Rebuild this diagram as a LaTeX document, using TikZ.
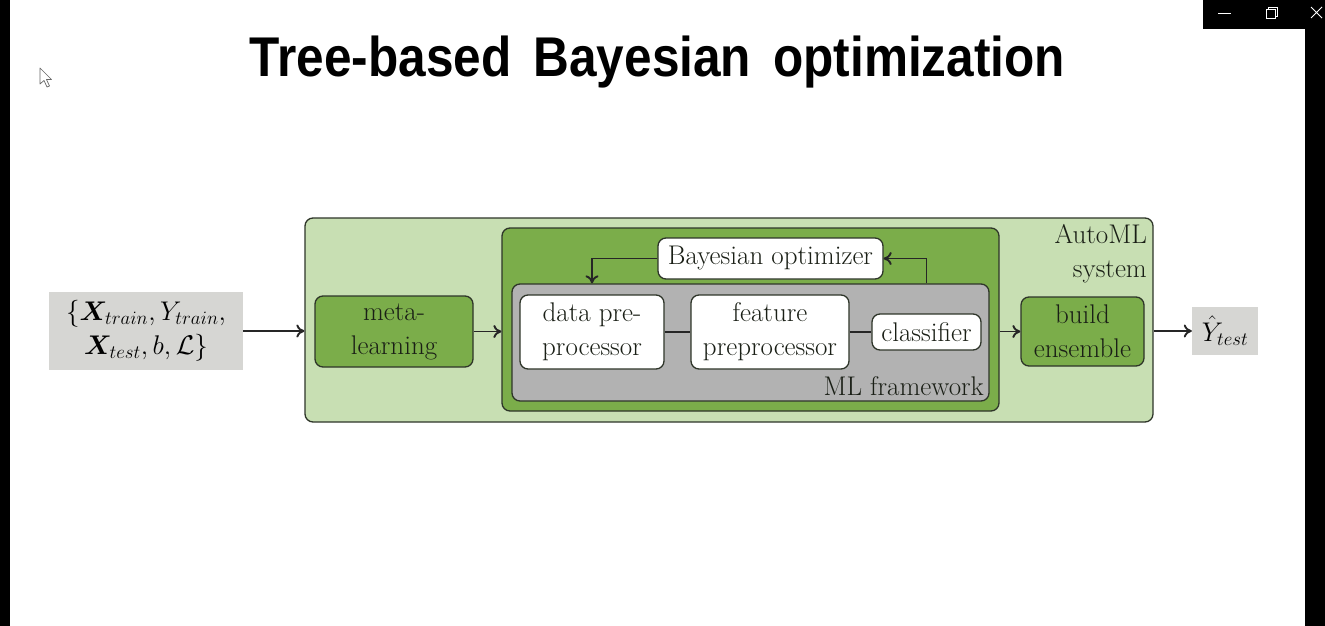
\RequirePackage{fix-cm}
\documentclass[tikz,border=0pt]{standalone}
\usepackage{amsmath,bm}
\usepackage{fontspec}
\newfontfamily\titlefont{Liberation Sans}
\usetikzlibrary{arrows.meta}
\definecolor{lightgreen}{HTML}{C8DFB3}
\definecolor{darkgreen}{HTML}{7BAD4A}
\definecolor{fwgray}{HTML}{B2B2B2}
\definecolor{inputgray}{HTML}{D6D6D3}
\definecolor{edgecol}{HTML}{2E3529}
\definecolor{txtcol}{HTML}{1A1F16}
\begin{document}
\begin{tikzpicture}[x=1pt,y=-1pt,
  font=\fontsize{27}{34}\selectfont,
  rbox/.style={draw=edgecol, line width=1.3pt, rounded corners=8pt, align=center, inner sep=0pt, text=txtcol},
  greenbox/.style={rbox, fill=darkgreen},
  whitebox/.style={rbox, fill=white},
  graybox/.style={fill=inputgray, align=center, inner sep=0pt},
  arr/.style={line width=1.9pt, draw=black!85, -{Computer Modern Rightarrow[length=8pt,width=13pt]}},
  plain/.style={line width=1.9pt, draw=black!85},
  lbl/.style={inner sep=0pt, text=txtcol}
]
\useasboundingbox (0,0) rectangle (1325,626);
\fill[white] (0,0) rectangle (1325,626);
% screen frame
\fill[black] (0,0) rectangle (10,626);
\fill[black] (1305,0) rectangle (1325,626);
\fill[black] (1203,0) rectangle (1325,29);
\draw[white, line width=1pt] (1218,13.5) -- (1231,13.5);
\draw[white, line width=1pt] (1266.5,9.5) rectangle (1275.5,18.5);
\draw[white, line width=1pt] (1268.5,9.5) -- (1268.5,7.5) -- (1277.5,7.5) -- (1277.5,16.5) -- (1275.5,16.5);
\draw[white, line width=1pt] (1311,7) -- (1322,18) (1311,18) -- (1322,7);
% cursor
\draw[fill=white, draw=black!60, line width=0.7pt, line join=round]
  (40,68) -- (40,84) -- (44,80.5) -- (47,87) -- (49.5,86) -- (46.5,79.5) -- (51.5,79.5) -- cycle;
% title
\node[font=\titlefont\bfseries\fontsize{56}{60}\selectfont, anchor=base, inner sep=0pt] (title) at (657.5,77)
  {\scalebox{0.885}[1]{Tree-based\ \,Bayesian\ \,optimization}};
% boxes
\node[rbox, fill=lightgreen, minimum width=848pt, minimum height=204pt] (automl) at (729,320) {};
\node[lbl, align=right, anchor=north east] (automllbl) at (1147,224) {AutoML\\system};
\node[rbox, fill=darkgreen, minimum width=497pt, minimum height=183pt] (pipe) at (750.5,319.5) {};
\node[rbox, fill=fwgray, minimum width=477pt, minimum height=117pt] (fw) at (750.5,342.5) {};
\node[lbl, anchor=south east] (fwlbl) at (984,396) {ML framework};
\node[whitebox, minimum width=225pt, minimum height=41pt] (bo) at (770.5,258.5) {Bayesian optimizer};
\node[whitebox, minimum width=144pt, minimum height=74pt] (dpre) at (592,332) {data pre-\\processor};
\node[whitebox, minimum width=158pt, minimum height=74pt] (feat) at (770,332) {feature\\preprocessor};
\node[whitebox, minimum width=109pt, minimum height=36pt] (clf) at (926.5,332) {classifier};
\node[greenbox, minimum width=158pt, minimum height=71pt] (meta) at (394,331.5) {meta-\\learning};
\node[greenbox, minimum width=123pt, minimum height=69pt] (build) at (1082.5,331.5) {build\\ensemble};
\node[graybox, minimum width=194pt, minimum height=78pt, font=\fontsize{27}{34}\selectfont] (input) at (146,331)
  {$\{\bm{X}_{train}, Y_{train},$\\$\bm{X}_{test}, b, \mathcal{L}\}$};
\node[graybox, minimum width=66pt, minimum height=48pt, font=\fontsize{27}{30}\selectfont] (output) at (1225,331) {$\hat{Y}_{test}$};
% connectors
\draw[arr] (input.east) -- (input.east -| automl.west);
\draw[arr] (meta.east) -- (meta.east -| pipe.west);
\draw[arr] (build.west -| pipe.east) -- (build.west);
\draw[arr] (output.west -| automl.east) -- (output.west);
\draw[plain] (dpre) -- (feat);
\draw[plain] (feat) -- (clf);
\draw[arr] (bo.west) -| (dpre.center |- fw.north);
\draw[arr] (clf.center |- fw.north) |- (bo.east);
\end{tikzpicture}
\end{document}
